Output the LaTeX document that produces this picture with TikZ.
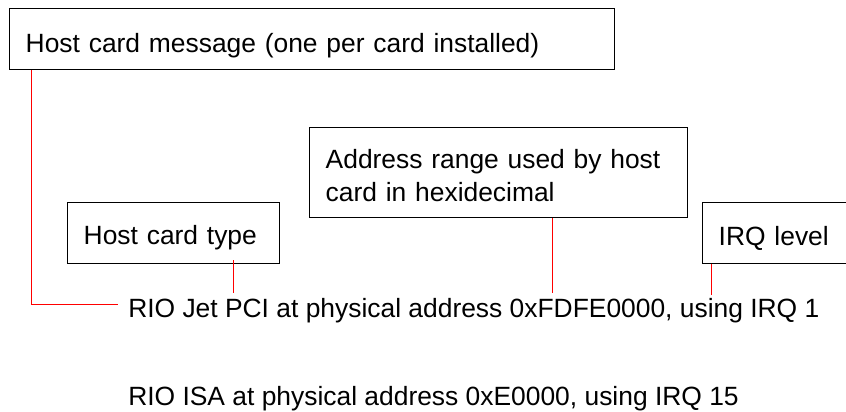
\documentclass[tikz,border=0pt]{standalone}
\usepackage{fontspec}
\setmainfont{Liberation Sans}
\begin{document}
\begin{tikzpicture}[x=0.75pt,y=-0.75pt,
  every node/.style={font=\fontsize{19.8pt}{24.75pt}\selectfont},
  callout/.style={draw=black,line width=1.1pt,anchor=north west,align=left,inner xsep=12pt,inner ysep=0pt},
  plain/.style={anchor=base west,inner sep=0pt},
  conn/.style={draw=red,line width=0.75pt}]
\useasboundingbox (0,0) rectangle (846,411);
\node[callout,text width=429.75pt,text height=33pt,text depth=12.75pt] (box1) at (9,8) {Host card message (one per card installed)};
\node[callout,text width=135pt,text height=31.5pt,text depth=14.25pt] (box2) at (67,202) {Host card type};
\node[callout,text width=259.5pt,text height=30.75pt,text depth=36.75pt] (box3) at (309,127) {Address range used by host\\card in hexidecimal};
\node[callout,text width=150pt,text height=32.25pt,text depth=13.5pt] (box4) at (702,202) {IRQ level};
\node[plain] (line1) at (128,317) {RIO Jet PCI at physical address 0xFDFE0000, using IRQ 1};
\node[plain] (line2) at (128,405) {RIO ISA at physical address 0xE0000, using IRQ 15};
\coordinate (turn) at (31,304);
\coordinate (l1end) at (118,304);
\coordinate (t2) at (233,293);
\coordinate (t3) at (552,293);
\coordinate (t4) at (711,295);
\draw[conn] (box1.south -| turn) -- (turn) -- (l1end);
\draw[conn] ([yshift=3pt]box2.south -| t2) -- (t2);
\draw[conn] (box3.south -| t3) -- (t3);
\draw[conn] (box4.south -| t4) -- (t4);
\end{tikzpicture}
\end{document}
